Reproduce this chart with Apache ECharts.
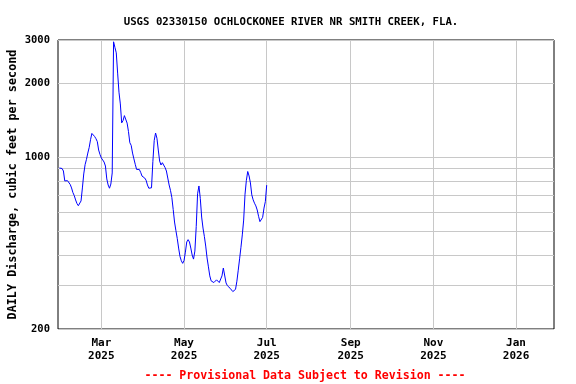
<!DOCTYPE html>
<html>
<head>
<meta charset="utf-8">
<script src="https://cdn.jsdelivr.net/npm/echarts@6/dist/echarts.min.js"></script>
<style>
html,body{margin:0;padding:0;background:#fff;}
#c{width:576px;height:384px;}
</style>
</head>
<body>
<div id="c"></div>
<script>
var titleText = 'USGS 02330150 OCHLOCKONEE RIVER NR SMITH CREEK, FLA.';
var yAxisTitle = 'DAILY Discharge, cubic feet per second';
var footerText = '---- Provisional Data Subject to Revision ----';
var startDate = '2025-01-29';
var flows = [
  904, 904, 900, 879, 801, 798, 803, 797, 775, 750,
  718, 698, 670, 648, 635, 639, 664, 750, 855, 933,
  980, 1040, 1095, 1178, 1250, 1262, 1215, 1190, 1158, 1070,
  1026, 993, 982, 956, 921, 816, 771, 748, 778, 863,
  2950, 2800, 2660, 2200, 1840, 1648, 1380, 1410, 1477, 1460,
  1377, 1272, 1146, 1118, 1040, 985, 936, 892, 880, 892,
  868, 838, 834, 823, 806, 771, 748, 743, 751, 960,
  1170, 1255, 1195, 1070, 965, 930, 950, 940, 908, 879,
  823, 771, 733, 686, 613, 545, 503, 467, 427, 395,
  379, 370, 380, 411, 452, 462, 452, 427, 400, 385,
  415, 522, 710, 764, 680, 571, 515, 476, 435, 389,
  358, 329, 314, 311, 309, 306, 317, 319, 309, 311,
  329, 354, 350, 308, 300, 297, 293, 288, 284, 281,
  290, 313, 347, 386, 430, 483, 555, 707, 805, 875,
  839, 786, 703, 671, 650, 634, 610, 575, 547, 545,
  569, 621, 660, 770
];
var xMinDate = '2025-01-28';
var xMaxDate = '2026-01-29';
var xLabelDates = ['2025-03-01', '2025-05-01', '2025-07-01', '2025-09-01', '2025-11-01', '2026-01-01'];
var yLabelValues = [200, 1000, 2000, 3000];
var yGridValues = [200, 300, 400, 500, 600, 700, 800, 900, 1000, 2000, 3000];
var monthNames = ['Jan','Feb','Mar','Apr','May','Jun','Jul','Aug','Sep','Oct','Nov','Dec'];

function ts(s) { var p = s.split('-'); return Date.UTC(+p[0], +p[1] - 1, +p[2]); }
var DAY = 86400000;
var t0 = ts(startDate);
var seriesData = flows.map(function (v, i) { return [t0 + i * DAY, v]; });
var xLabelTs = xLabelDates.map(ts);

var FONT = '"DejaVu Sans Mono", "Liberation Mono", monospace';
var chart = echarts.init(document.getElementById('c'), null, {renderer: 'canvas'});
chart.setOption({
  animation: false,
  backgroundColor: '#ffffff',
  title: [
    {text: titleText, left: 286, top: 12, textAlign: 'center',
     textStyle: {fontFamily: FONT, fontWeight: 'bold', fontSize: 10.7, color: '#000'}},
    {text: footerText, left: 300, top: 365, textAlign: 'center',
     textStyle: {fontFamily: FONT, fontWeight: 'bold', fontSize: 11.6, color: '#ff0000'}}
  ],
  grid: {left: 58, top: 40, width: 496, height: 289, show: true,
         containLabel: false, outerBoundsMode: 'none',
         borderColor: '#000', borderWidth: 1, backgroundColor: 'transparent'},
  xAxis: {
    type: 'value',
    min: ts(xMinDate), max: ts(xMaxDate),
    axisLine: {show: false},
    axisTick: {show: false, customValues: xLabelTs},
    splitLine: {show: true, lineStyle: {color: '#c8c8c8', width: 1}},
    axisLabel: {
      customValues: xLabelTs,
      margin: 8,
      fontFamily: FONT, fontWeight: 'bold', fontSize: 11, color: '#000', lineHeight: 13,
      formatter: function (v) { var d = new Date(v); return monthNames[d.getUTCMonth()] + '\n' + d.getUTCFullYear(); }
    }
  },
  yAxis: {
    type: 'log', logBase: 10, min: 200, max: 3000,
    name: yAxisTitle, nameLocation: 'middle', nameGap: 39, nameRotate: 90,
    nameMoveOverlap: false,
    nameTextStyle: {fontFamily: FONT, fontWeight: 'bold', fontSize: 11.8, color: '#000'},
    axisLine: {show: false},
    axisTick: {show: false, customValues: yGridValues},
    splitLine: {show: true, lineStyle: {color: '#c8c8c8', width: 1}},
    axisLabel: {customValues: yLabelValues, margin: 8,
      fontFamily: FONT, fontWeight: 'bold', fontSize: 10.5, color: '#000',
      formatter: function (v) { return String(Math.round(v)); }}
  },
  series: [{
    type: 'line', data: seriesData, showSymbol: false, symbol: 'none',
    lineStyle: {color: '#0000ff', width: 1}, z: 5
  }]
});
</script>
</body>
</html>
